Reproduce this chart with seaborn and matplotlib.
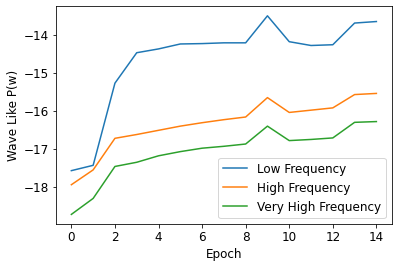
import pandas as pd
import matplotlib
matplotlib.use('Agg')
import matplotlib.pyplot as plt
import seaborn as sns

epochs = list(range(15))
low_freq = [-17.57, -17.43, -15.27, -14.47, -14.37, -14.24, -14.23, -14.21, -14.21,
            -13.50, -14.18, -14.28, -14.26, -13.69, -13.65]
high_freq = [-17.94, -17.55, -16.72, -16.62, -16.51, -16.40, -16.31, -16.23, -16.16,
             -15.65, -16.04, -15.98, -15.92, -15.57, -15.54]
very_high_freq = [-18.72, -18.30, -17.46, -17.35, -17.18, -17.07, -16.98, -16.93, -16.87,
                  -16.40, -16.78, -16.75, -16.71, -16.30, -16.28]
series_names = ['Low Frequency', 'High Frequency', 'Very High Frequency']

df = pd.DataFrame({
	'Epoch': epochs * 3,
	'value': low_freq + high_freq + very_high_freq,
	'series': sum([[n] * len(epochs) for n in series_names], []),
})

plt.rcParams['font.size'] = 12

fig, ax = plt.subplots(figsize=(398 / 72, 268 / 72), dpi=72)
fig.subplots_adjust(left=0.141, right=0.984, bottom=0.163, top=0.978)
sns.lineplot(data=df, x='Epoch', y='value', hue='series', hue_order=series_names,
             palette=['#1f77b4', '#ff7f0e', '#2ca02c'], linewidth=1.5, ax=ax)
ax.set_xlabel('Epoch')
ax.set_ylabel('Wave Like P(w)')
ax.set_xticks(range(0, 15, 2))
ax.set_yticks([-18, -17, -16, -15, -14])
ax.legend(loc='lower right', title=None)
fig.savefig('out.png', dpi=72)
